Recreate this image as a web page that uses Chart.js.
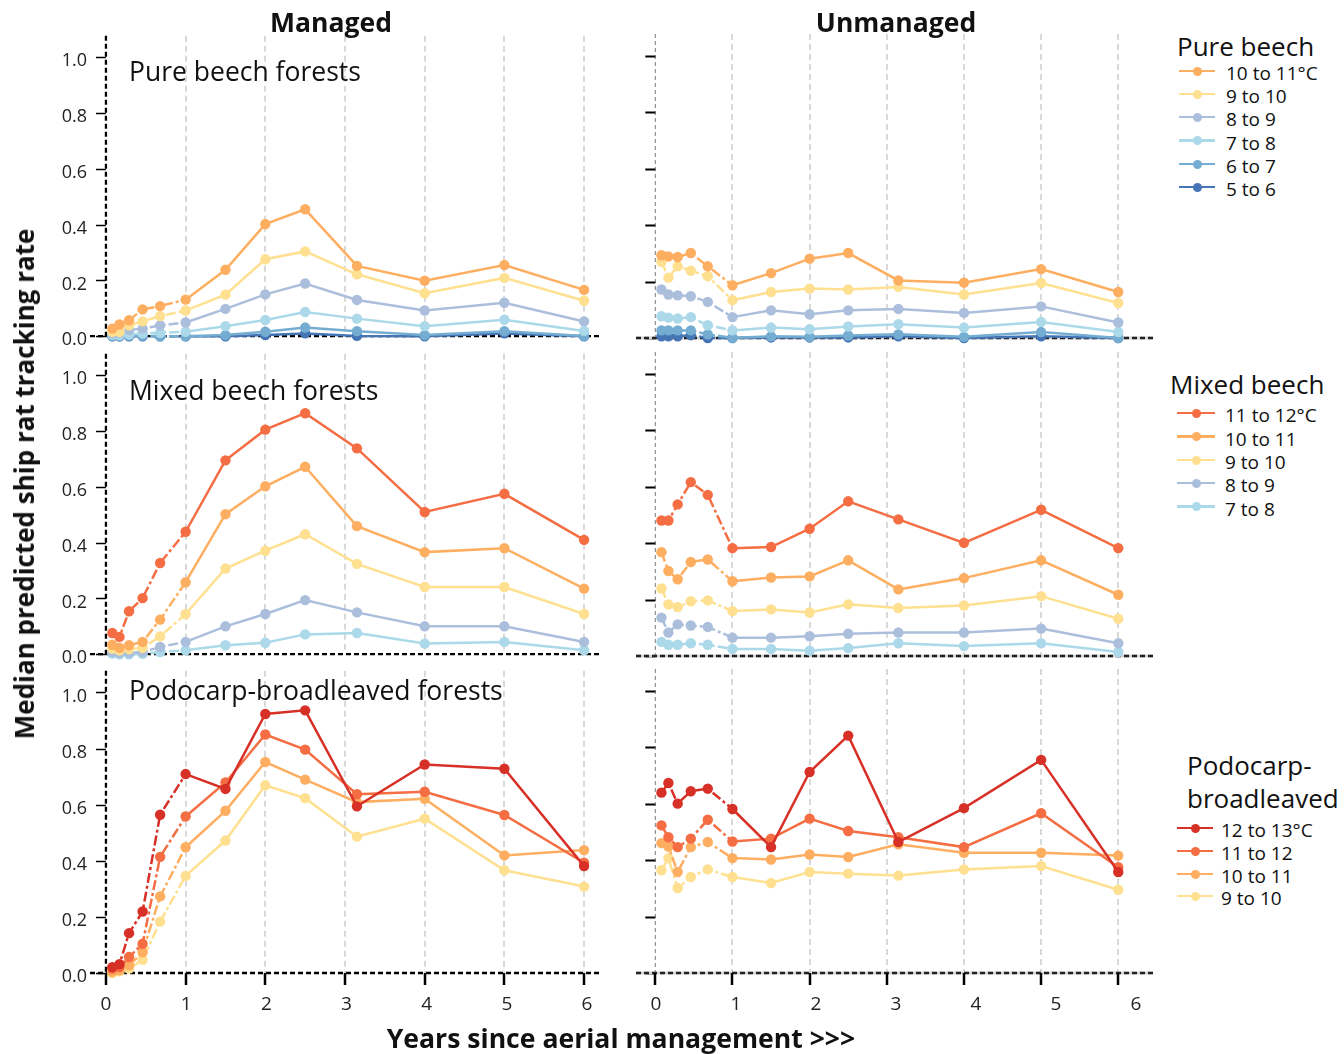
<!DOCTYPE html>
<html>
<head>
<meta charset="utf-8">
<title>Ship rat tracking after aerial management</title>
<script src="https://cdn.jsdelivr.net/npm/chart.js@4.4.1/dist/chart.umd.min.js"></script>
<style>
  html, body { margin: 0; padding: 0; background: #fff; }
  body { position: relative; width: 1344px; height: 1054px; overflow: hidden;
         font-family: "Open Sans", "Noto Sans", sans-serif; color: #111; }
  canvas { position: absolute; }
  .lbl { position: absolute; white-space: nowrap; line-height: 1; }
  .head { font-weight: 700; font-size: 26.5px; transform: translateX(-50%); }
  .facet { font-size: 26.5px; }
  .ytitle { font-weight: 700; font-size: 26px; transform: translate(-50%, -50%) rotate(-90deg); }
  .xtitle { font-weight: 700; font-size: 26.6px; transform: translate(-50%, -50%); }
  .legtitle { font-size: 26px; }
  .legtext { font-size: 19px; }
  .swatch { position: absolute; height: 2.5px; }
  .dot { position: absolute; width: 9px; height: 9px; border-radius: 50%; }
</style>
</head>
<body>
<script>
// Years since the last aerial operation at which the median is reported
const years = [0.08, 0.17, 0.29, 0.46, 0.68, 1, 1.5, 2, 2.5, 3.15, 4, 5, 6];
const xTicks = [0, 1, 2, 3, 4, 5, 6];
const yTicks = [0, 0.2, 0.4, 0.6, 0.8, 1.0];

// Pure beech forests
const pureManaged_10to11 = [0.027, 0.042, 0.057, 0.096, 0.108, 0.131, 0.238, 0.402, 0.455, 0.252, 0.199, 0.255, 0.166];
const pureManaged_9to10  = [0.016, 0.016, 0.039, 0.053, 0.072, 0.092, 0.149, 0.276, 0.304, 0.222, 0.154, 0.209, 0.127];
const pureManaged_8to9   = [0.010, 0.013, 0.022, 0.027, 0.039, 0.049, 0.098, 0.150, 0.189, 0.130, 0.092, 0.120, 0.053];
const pureManaged_7to8   = [0.004, 0.004, 0.006, 0.010, 0.012, 0.016, 0.036, 0.058, 0.087, 0.063, 0.036, 0.059, 0.019];
const pureManaged_6to7   = [0.002, 0.000, 0.002, 0.002, 0.000, 0.000, 0.004, 0.016, 0.031, 0.018, 0.004, 0.018, 0.001];
const pureManaged_5to6   = [0.000, 0.000, 0.000, 0.000, 0.000, 0.000, 0.000, 0.004, 0.010, 0.001, 0.000, 0.010, 0.000];

const pureUnmanaged_10to11 = [0.293, 0.289, 0.287, 0.301, 0.254, 0.187, 0.230, 0.281, 0.301, 0.204, 0.196, 0.244, 0.163];
const pureUnmanaged_9to10  = [0.270, 0.214, 0.254, 0.238, 0.219, 0.134, 0.163, 0.175, 0.172, 0.181, 0.154, 0.195, 0.124];
const pureUnmanaged_8to9   = [0.172, 0.154, 0.151, 0.148, 0.128, 0.074, 0.098, 0.084, 0.098, 0.103, 0.089, 0.112, 0.055];
const pureUnmanaged_7to8   = [0.077, 0.072, 0.069, 0.074, 0.045, 0.027, 0.037, 0.031, 0.041, 0.049, 0.037, 0.057, 0.021];
const pureUnmanaged_6to7   = [0.027, 0.027, 0.027, 0.027, 0.013, 0.000, 0.006, 0.004, 0.009, 0.013, 0.004, 0.021, 0.000];
const pureUnmanaged_5to6   = [0.006, 0.006, 0.006, 0.010, 0.000, 0.000, 0.002, 0.002, 0.002, 0.006, 0.000, 0.006, 0.000];

// Mixed beech forests
const mixedManaged_11to12 = [0.076, 0.062, 0.154, 0.201, 0.327, 0.439, 0.695, 0.805, 0.864, 0.738, 0.510, 0.575, 0.410];
const mixedManaged_10to11 = [0.034, 0.023, 0.032, 0.044, 0.124, 0.258, 0.502, 0.602, 0.672, 0.459, 0.366, 0.380, 0.235];
const mixedManaged_9to10  = [0.020, 0.014, 0.018, 0.023, 0.064, 0.144, 0.307, 0.371, 0.430, 0.324, 0.241, 0.241, 0.144];
const mixedManaged_8to9   = [0.008, 0.005, 0.005, 0.008, 0.026, 0.044, 0.100, 0.144, 0.194, 0.150, 0.100, 0.100, 0.044];
const mixedManaged_7to8   = [0.002, 0.000, 0.000, 0.001, 0.008, 0.014, 0.032, 0.041, 0.071, 0.076, 0.038, 0.044, 0.014];

const mixedUnmanaged_11to12 = [0.480, 0.480, 0.537, 0.616, 0.571, 0.382, 0.386, 0.451, 0.548, 0.484, 0.401, 0.518, 0.382];
const mixedUnmanaged_10to11 = [0.368, 0.301, 0.272, 0.333, 0.342, 0.265, 0.278, 0.282, 0.339, 0.236, 0.276, 0.339, 0.217];
const mixedUnmanaged_9to10  = [0.239, 0.183, 0.173, 0.194, 0.197, 0.159, 0.165, 0.154, 0.183, 0.170, 0.179, 0.212, 0.132];
const mixedUnmanaged_8to9   = [0.136, 0.083, 0.112, 0.108, 0.103, 0.065, 0.065, 0.070, 0.079, 0.083, 0.083, 0.097, 0.045];
const mixedUnmanaged_7to8   = [0.050, 0.040, 0.040, 0.045, 0.040, 0.025, 0.025, 0.019, 0.028, 0.045, 0.035, 0.045, 0.014];

// Podocarp-broadleaved forests
const podoManaged_12to13 = [0.021, 0.031, 0.142, 0.219, 0.564, 0.709, 0.656, 0.923, 0.936, 0.594, 0.743, 0.728, 0.381];
const podoManaged_11to12 = [0.016, 0.021, 0.057, 0.104, 0.414, 0.558, 0.679, 0.850, 0.796, 0.637, 0.646, 0.563, 0.393];
const podoManaged_10to11 = [0.004, 0.010, 0.027, 0.074, 0.273, 0.448, 0.578, 0.752, 0.689, 0.609, 0.621, 0.419, 0.438];
const podoManaged_9to10  = [0.000, 0.006, 0.016, 0.047, 0.183, 0.346, 0.472, 0.669, 0.623, 0.486, 0.550, 0.366, 0.308];

const podoUnmanaged_12to13 = [0.639, 0.673, 0.600, 0.644, 0.653, 0.581, 0.446, 0.712, 0.841, 0.464, 0.584, 0.755, 0.358];
const podoUnmanaged_11to12 = [0.523, 0.481, 0.446, 0.476, 0.543, 0.466, 0.476, 0.547, 0.503, 0.481, 0.446, 0.566, 0.375];
const podoUnmanaged_10to11 = [0.460, 0.448, 0.358, 0.446, 0.464, 0.407, 0.402, 0.420, 0.411, 0.456, 0.426, 0.426, 0.416];
const podoUnmanaged_9to10  = [0.364, 0.407, 0.301, 0.340, 0.367, 0.340, 0.319, 0.358, 0.352, 0.345, 0.367, 0.379, 0.295];

// Legend entries per forest type
const pureLegend  = ['10 to 11°C', '9 to 10', '8 to 9', '7 to 8', '6 to 7', '5 to 6'];
const mixedLegend = ['11 to 12°C', '10 to 11', '9 to 10', '8 to 9', '7 to 8'];
const podoLegend  = ['12 to 13°C', '11 to 12', '10 to 11', '9 to 10'];

// Colour for each mean-temperature band
const bandColour = {
  '12to13': '#d73027', '11to12': '#f46d43', '10to11': '#fdae61', '9to10': '#fee090',
  '8to9': '#abbfdc', '7to8': '#abd9e9', '6to7': '#74add1', '5to6': '#4575b4'
};

const pureBands  = ['10to11', '9to10', '8to9', '7to8', '6to7', '5to6'];
const mixedBands = ['11to12', '10to11', '9to10', '8to9', '7to8'];
const podoBands  = ['12to13', '11to12', '10to11', '9to10'];

const FONT = '"Open Sans", "Noto Sans", sans-serif';
const Y_MAX = 1.077;

// Plot-area geometry for each facet row and column
const ROWS = [
  { top: 34, zero: 338 },
  { top: 352, zero: 656 },
  { top: 669, zero: 973 }
];
const COLS = [
  { left: 20, width: 600, padL: 0, padR: 20, axisW: 70, xMin: -0.2, xMax: 6.2, lMin: -0.1996, lMax: 6.162 },
  { left: 625, width: 540, padL: 11, padR: 12, axisW: 0, xMin: -0.25, xMax: 6.45, lMin: -0.25, lMax: 6.2125 }
];

// Axis lines, tick marks and dashed year guides for a facet
const facetFrame = {
  id: 'facetFrame',
  beforeDatasetsDraw(chart, args, opts) {
    const { ctx, chartArea } = chart;
    const xs = chart.scales.x, ys = chart.scales.y;
    const x0 = xs.getPixelForValue(0);
    const y0 = ys.getPixelForValue(0);
    const top = chartArea.top;
    ctx.save();
    ctx.lineCap = 'butt';

    // vertical year guides
    ctx.strokeStyle = '#d9d9d9';
    ctx.lineWidth = 2;
    ctx.setLineDash([6, 4]);
    xTicks.filter(v => v !== 0).forEach(v => {
      const px = Math.round(xs.getPixelForValue(v));
      ctx.beginPath(); ctx.moveTo(px, top); ctx.lineTo(px, y0); ctx.stroke();
    });

    // left axis at year 0
    if (opts.managed) {
      ctx.strokeStyle = '#000'; ctx.lineWidth = 2.3; ctx.setLineDash([5, 3]);
    } else {
      ctx.strokeStyle = '#777'; ctx.lineWidth = 1; ctx.setLineDash([4, 3]);
    }
    ctx.beginPath(); ctx.moveTo(x0, top); ctx.lineTo(x0, y0); ctx.stroke();

    // y tick marks
    ctx.setLineDash([]);
    ctx.strokeStyle = '#000';
    ctx.lineWidth = opts.managed ? 1.5 : 2;
    yTicks.forEach(v => {
      const py = Math.round(ys.getPixelForValue(v)) + 0.5;
      ctx.beginPath(); ctx.moveTo(x0 - 10, py); ctx.lineTo(x0, py); ctx.stroke();
    });

    // baseline at zero
    if (!opts.managed) {
      ctx.strokeStyle = '#d6d6d6'; ctx.lineWidth = 3;
      ctx.beginPath(); ctx.moveTo(chartArea.left, y0); ctx.lineTo(chartArea.right, y0); ctx.stroke();
    }
    ctx.strokeStyle = opts.managed ? '#000' : '#222';
    ctx.lineWidth = 2.3;
    ctx.setLineDash([5, 3]);
    ctx.beginPath(); ctx.moveTo(chartArea.left, y0); ctx.lineTo(chartArea.right, y0); ctx.stroke();

    // year tick marks under the bottom row
    if (opts.bottomRow) {
      ctx.setLineDash([]);
      ctx.strokeStyle = '#000';
      ctx.lineWidth = 2.5;
      xTicks.forEach(v => {
        const px = Math.round(xs.getPixelForValue(v));
        ctx.beginPath(); ctx.moveTo(px, y0); ctx.lineTo(px, y0 + 12); ctx.stroke();
      });
    }
    ctx.restore();
  }
};

function makeFacet(row, col, seriesList, bands) {
  const r = ROWS[row], c = COLS[col];
  const managed = col === 0;
  const bottomRow = row === ROWS.length - 1;
  const top = r.top - 12;
  const bottom = bottomRow ? 1030 : r.zero + 12;

  const cv = document.createElement('canvas');
  cv.width = c.width;
  cv.height = bottom - top;
  cv.style.left = c.left + 'px';
  cv.style.top = top + 'px';
  cv.style.width = c.width + 'px';
  cv.style.height = (bottom - top) + 'px';
  document.body.appendChild(cv);

  const datasets = seriesList.map((vals, i) => {
    const colour = bandColour[bands[i]];
    return {
      data: vals.map((v, k) => ({ x: years[k], y: v })),
      borderColor: colour,
      backgroundColor: colour,
      borderWidth: 2.5,
      pointRadius: 5.2,
      pointBorderWidth: 0,
      pointBackgroundColor: colour,
      pointHoverRadius: 5.2,
      tension: 0,
      clip: false,
      xAxisID: 'x',
      yAxisID: 'y',
      segment: {
        borderDash: ctx => (ctx.p1.parsed.x <= 1 ? [10, 3, 3, 3] : undefined)
      }
    };
  });

  const scales = {
    x: {
      type: 'linear', min: c.xMin, max: c.xMax, display: false
    },
    y: {
      type: 'linear', min: 0, max: Y_MAX, display: managed, position: 'left',
      grid: { display: false, drawTicks: false }, border: { display: false },
      afterBuildTicks: s => { s.ticks = yTicks.map(v => ({ value: v })); },
      afterFit: s => { s.width = c.axisW; },
      ticks: {
        font: { family: FONT, size: 18 }, color: '#222', padding: 3, labelOffset: 4,
        callback: v => Number(v).toFixed(1)
      }
    }
  };
  if (bottomRow) {
    scales.xl = {
      type: 'linear', axis: 'x', position: 'bottom', min: c.lMin, max: c.lMax,
      grid: { display: false, drawTicks: false }, border: { display: false },
      afterBuildTicks: s => { s.ticks = xTicks.map(v => ({ value: v })); },
      afterFit: s => { s.height = 57; },
      ticks: {
        font: { family: FONT, size: 19 }, color: '#222', padding: 20,
        maxRotation: 0, autoSkip: false, callback: v => String(v)
      }
    };
  }

  return new Chart(cv, {
    type: 'line',
    data: { datasets },
    options: {
      responsive: false,
      animation: false,
      events: [],
      layout: { padding: { left: c.padL, right: c.padR, top: 12, bottom: bottomRow ? 0 : 12 } },
      plugins: {
        legend: { display: false },
        tooltip: { enabled: false },
        facetFrame: { managed, bottomRow }
      },
      scales
    },
    plugins: [facetFrame]
  });
}

// Hottest band listed first so it is painted on top
makeFacet(0, 0, [pureManaged_10to11, pureManaged_9to10, pureManaged_8to9, pureManaged_7to8, pureManaged_6to7, pureManaged_5to6], pureBands);
makeFacet(0, 1, [pureUnmanaged_10to11, pureUnmanaged_9to10, pureUnmanaged_8to9, pureUnmanaged_7to8, pureUnmanaged_6to7, pureUnmanaged_5to6], pureBands);
makeFacet(1, 0, [mixedManaged_11to12, mixedManaged_10to11, mixedManaged_9to10, mixedManaged_8to9, mixedManaged_7to8], mixedBands);
makeFacet(1, 1, [mixedUnmanaged_11to12, mixedUnmanaged_10to11, mixedUnmanaged_9to10, mixedUnmanaged_8to9, mixedUnmanaged_7to8], mixedBands);
makeFacet(2, 0, [podoManaged_12to13, podoManaged_11to12, podoManaged_10to11, podoManaged_9to10], podoBands);
makeFacet(2, 1, [podoUnmanaged_12to13, podoUnmanaged_11to12, podoUnmanaged_10to11, podoUnmanaged_9to10], podoBands);

// Text furniture
function addText(cls, text, style) {
  const d = document.createElement('div');
  d.className = 'lbl ' + cls;
  d.textContent = text;
  Object.assign(d.style, style);
  document.body.appendChild(d);
  return d;
}

addText('head', 'Managed', { left: '331px', top: '9px' });
addText('head', 'Unmanaged', { left: '896px', top: '9px' });
addText('facet', 'Pure beech forests', { left: '129px', top: '58px' });
addText('facet', 'Mixed beech forests', { left: '129px', top: '377px' });
addText('facet', 'Podocarp-broadleaved forests', { left: '129px', top: '677px' });
addText('ytitle', 'Median predicted ship rat tracking rate', { left: '24px', top: '484px' });
addText('xtitle', 'Years since aerial management >>>', { left: '621px', top: '1038px' });

function addLegend(titleLines, titleLeft, titleTop, labels, bands, rowCentres, lineLeft, lineRight, textLeft) {
  titleLines.forEach((t, i) => addText('legtitle', t, { left: titleLeft + 'px', top: (titleTop + i * 33) + 'px' }));
  labels.forEach((lab, i) => {
    const colour = bandColour[bands[i]];
    const cy = rowCentres[i];
    const sw = document.createElement('div');
    sw.className = 'swatch';
    Object.assign(sw.style, { left: lineLeft + 'px', width: (lineRight - lineLeft) + 'px', top: (cy - 1.25) + 'px', background: colour });
    document.body.appendChild(sw);
    const dot = document.createElement('div');
    dot.className = 'dot';
    Object.assign(dot.style, { left: ((lineLeft + lineRight) / 2 - 4.5) + 'px', top: (cy - 4.5) + 'px', background: colour });
    document.body.appendChild(dot);
    addText('legtext', lab, { left: textLeft + 'px', top: (cy - 7) + 'px' });
  });
}

addLegend(['Pure beech'], 1177, 33, pureLegend, pureBands, [71, 94, 117, 140.5, 164, 187], 1179, 1215, 1226);
addLegend(['Mixed beech'], 1170, 371, mixedLegend, mixedBands, [413, 436.5, 460, 483, 506.5], 1177, 1215, 1225);
addLegend(['Podocarp-', 'broadleaved'], 1187, 752, podoLegend, podoBands, [828, 851, 874, 896], 1177, 1213, 1221);
</script>
</body>
</html>
